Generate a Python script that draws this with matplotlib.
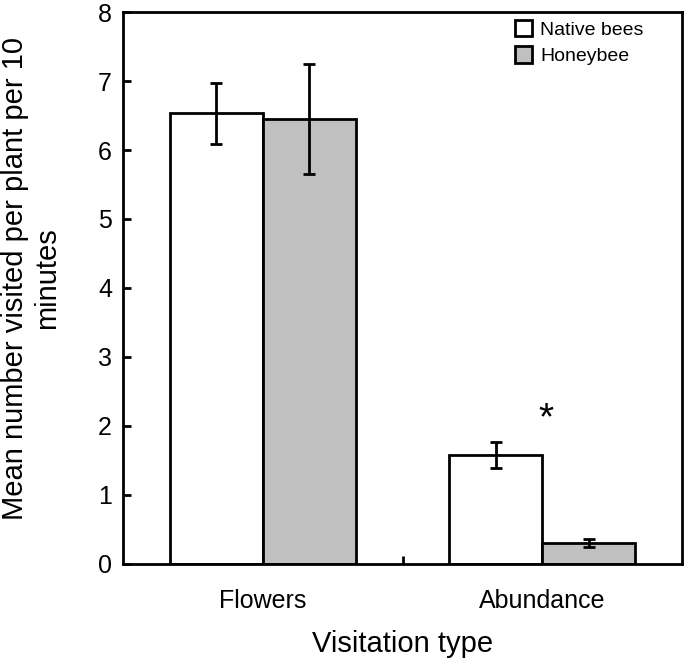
import matplotlib.pyplot as plt
import numpy as np

plt.rcParams["font.family"] = ["Liberation Sans", "DejaVu Sans"]

categories = ["Flowers", "Abundance"]
native = [6.53, 1.58]
native_err = [0.44, 0.19]
honeybee = [6.45, 0.30]
honeybee_err = [0.80, 0.06]

LW = 2.0
W = 1 / 3

fig = plt.figure(figsize=(6.85, 6.6), dpi=100)
ax = fig.add_axes([0.1796, 0.1455, 0.816, 0.8363])

x = np.arange(len(categories))
ax.bar(x - W / 2, native, W, color="white", edgecolor="black", linewidth=LW,
       label="Native bees", zorder=2)
ax.bar(x + W / 2, honeybee, W, color="#c0c0c0", edgecolor="black", linewidth=LW,
       label="Honeybee", zorder=2)
ax.errorbar(x - W / 2, native, yerr=native_err, fmt="none", ecolor="black",
            elinewidth=LW, capsize=4, capthick=LW, zorder=3)
ax.errorbar(x + W / 2, honeybee, yerr=honeybee_err, fmt="none", ecolor="black",
            elinewidth=LW, capsize=4, capthick=LW, zorder=3)

ax.text(x[1] + 0.015, 1.84, "*", ha="center", va="bottom", fontsize=28)

ax.set_xlim(-0.5, 1.5)
ax.set_ylim(0, 8)
ax.set_xticks(x)
ax.set_xticklabels(categories, fontsize=18)
ax.set_xticks([0.5], minor=True)
ax.tick_params(axis="x", which="major", length=0, pad=18)
ax.tick_params(axis="x", which="minor", direction="in", length=6, width=LW)
ax.tick_params(axis="y", direction="in", length=6, width=LW, labelsize=18, pad=8)
ax.set_yticks(range(0, 9))
for s in ax.spines.values():
    s.set_linewidth(LW)

ax.set_ylabel("Mean number visited per plant per 10\nminutes", fontsize=21,
              linespacing=1.2)
ax.yaxis.set_label_coords(-0.111, 0.518)
ax.set_xlabel("Visitation type", fontsize=21, labelpad=12)

ax.legend(loc="upper left", bbox_to_anchor=(0.68, 1.007), frameon=False,
          fontsize=14, handlelength=0.9, handleheight=0.9, handletextpad=0.4,
          borderaxespad=0.2, labelspacing=0.4)

fig.savefig("out.png", dpi=100)
